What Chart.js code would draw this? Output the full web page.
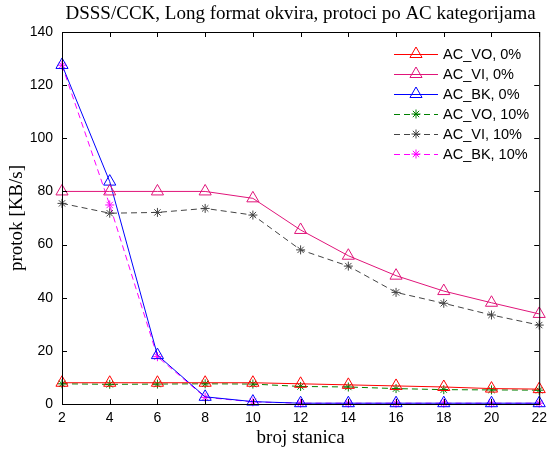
<!DOCTYPE html>
<html>
<head>
<meta charset="utf-8">
<script src="https://cdn.jsdelivr.net/npm/chart.js@4/dist/chart.umd.min.js"></script>
<style>
  html, body { margin: 0; padding: 0; background: #fff; }
  #wrap { width: 553px; height: 452px; }
</style>
</head>
<body>
<div id="wrap"><canvas id="protokChart" width="553" height="452"></canvas></div>
<script>
// Broj stanica (x os)
const stations = [2, 4, 6, 8, 10, 12, 14, 16, 18, 20, 22];
const yTicks = [0, 20, 40, 60, 80, 100, 120, 140];

// Protok po kategorijama [KB/s]
const vo0  = [8.0, 8.0, 8.0, 8.0, 8.0, 7.6, 7.2, 6.8, 6.4, 5.8, 5.6];
const vi0  = [80, 80, 80, 80, 77.4, 65.5, 55.8, 48.3, 42.5, 38.1, 33.9];
const bk0  = [127.6, 83.7, 18.4, 2.7, 0.9, 0.3, 0.3, 0.3, 0.3, 0.3, 0.3];
const vo10 = [7.6, 7.4, 7.5, 7.6, 7.5, 6.6, 6.4, 5.8, 5.4, 5.3, 5.2];
const vi10 = [75.5, 71.8, 72.1, 73.6, 71.1, 58.0, 51.9, 42.0, 37.9, 33.5, 29.7];
const bk10 = [127.5, 74.9, 17.8, 2.5, 0.8, 0.3, 0.3, 0.3, 0.3, 0.3, 0.3];

const labels = ['AC_VO, 0%', 'AC_VI, 0%', 'AC_BK, 0%', 'AC_VO, 10%', 'AC_VI, 10%', 'AC_BK, 10%'];
const colors = ['#ff0000', '#e0157a', '#0000ff', '#008000', '#444444', '#ff00ff'];

function series(values, i, dashed) {
    return {
        label: labels[i],
        data: values.map((v, k) => ({ x: stations[k], y: v })),
        borderColor: colors[i],
        backgroundColor: 'rgba(0,0,0,0)',
        borderWidth: 1,
        borderDash: dashed ? [6, 4] : [],
        pointStyle: dashed ? 'star' : 'triangle',
        pointRadius: dashed ? 4.5 : 7,
        pointBorderWidth: 1,
        pointBorderColor: colors[i],
        pointBackgroundColor: 'rgba(0,0,0,0)',
        tension: 0,
        clip: false
    };
}

const datasets = [
    series(vo0, 0, false),
    series(vi0, 1, false),
    series(bk0, 2, false),
    series(vo10, 3, true),
    series(vi10, 4, true),
    series(bk10, 5, true)
];

// Okvir, unutarnji tickovi, naslovi i legenda
const matlabLook = {
    id: 'matlabLook',
    afterDraw(chart) {
        const { ctx, chartArea: a, scales } = chart;
        ctx.save();
        ctx.strokeStyle = '#000';
        ctx.lineWidth = 1;
        ctx.strokeRect(a.left + 0.5, a.top + 0.5, a.right - a.left, a.bottom - a.top);

        // ticks pointing inward
        ctx.beginPath();
        stations.forEach(v => {
            const x = Math.round(scales.x.getPixelForValue(v)) + 0.5;
            ctx.moveTo(x, a.bottom); ctx.lineTo(x, a.bottom - 5);
            ctx.moveTo(x, a.top); ctx.lineTo(x, a.top + 5);
        });
        yTicks.forEach(v => {
            const y = Math.round(scales.y.getPixelForValue(v)) + 0.5;
            ctx.moveTo(a.left, y); ctx.lineTo(a.left + 5, y);
            ctx.moveTo(a.right, y); ctx.lineTo(a.right - 5, y);
        });
        ctx.stroke();

        // titles
        ctx.fillStyle = '#000';
        ctx.font = '19px "Liberation Serif", "Times New Roman", serif';
        ctx.textAlign = 'center';
        ctx.textBaseline = 'middle';
        ctx.fillText('DSSS/CCK, Long format okvira, protoci po AC kategorijama', (a.left + a.right) / 2, 14);
        ctx.fillText('broj stanica', (a.left + a.right) / 2, 438);
        ctx.save();
        ctx.translate(17, (a.top + a.bottom) / 2);
        ctx.rotate(-Math.PI / 2);
        ctx.fillText('protok [KB/s]', 0, 0);
        ctx.restore();

        // legend
        ctx.font = '14.5px "Liberation Sans", Arial, sans-serif';
        ctx.textAlign = 'left';
        datasets.forEach((ds, i) => {
            const y = 54 + i * 20;
            ctx.strokeStyle = ds.borderColor;
            ctx.setLineDash(ds.borderDash);
            ctx.beginPath();
            ctx.moveTo(394, y + 0.5); ctx.lineTo(438, y + 0.5);
            ctx.stroke();
            ctx.setLineDash([]);
            ctx.fillStyle = 'rgba(0,0,0,0)';
            ctx.lineWidth = 1;
            Chart.helpers.drawPoint(ctx, {
                pointStyle: ds.pointStyle,
                radius: ds.pointRadius,
                borderWidth: 1,
                rotation: 0
            }, 416, y);
            ctx.fillStyle = '#000';
            ctx.fillText(ds.label, 443, y + 1);
        });
        ctx.restore();
    }
};

new Chart(document.getElementById('protokChart'), {
    type: 'line',
    data: { datasets: datasets },
    options: {
        responsive: false,
        animation: false,
        layout: { padding: { top: 32, right: 10, left: 0, bottom: 0 } },
        plugins: {
            legend: { display: false },
            title: { display: false },
            tooltip: { enabled: false }
        },
        scales: {
            x: {
                type: 'linear',
                min: 2,
                max: 22,
                afterFit: s => { s.height = 48; },
                afterBuildTicks: s => { s.ticks = stations.map(v => ({ value: v })); },
                grid: { display: false, drawTicks: false },
                border: { display: false },
                ticks: {
                    color: '#000',
                    padding: 6,
                    maxRotation: 0,
                    font: { family: '"Liberation Sans", Arial, sans-serif', size: 14 }
                }
            },
            y: {
                type: 'linear',
                min: 0,
                max: 140,
                afterFit: s => { s.width = 62; },
                afterBuildTicks: s => { s.ticks = yTicks.map(v => ({ value: v })); },
                grid: { display: false, drawTicks: false },
                border: { display: false },
                ticks: {
                    color: '#000',
                    padding: 9,
                    font: { family: '"Liberation Sans", Arial, sans-serif', size: 14 }
                }
            }
        }
    },
    plugins: [matlabLook]
});
</script>
</body>
</html>
